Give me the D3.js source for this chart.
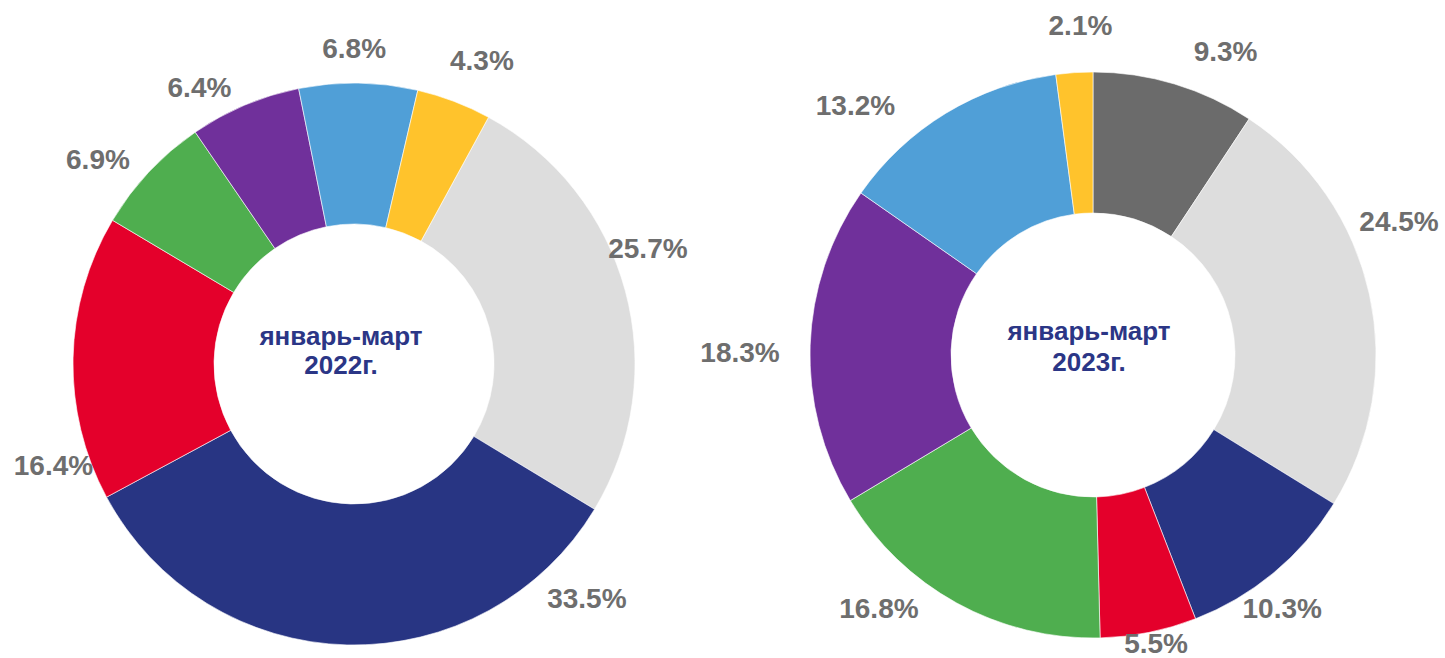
<!DOCTYPE html>
<html>
<head>
<meta charset="utf-8">
<script src="https://cdn.jsdelivr.net/npm/d3@7"></script>
<style>
  html, body { margin: 0; padding: 0; background: #ffffff; }
  svg { display: block; }
  text { font-family: "Liberation Sans", Arial, sans-serif; font-weight: bold; }
</style>
</head>
<body>
<svg id="chart" width="1445" height="658"></svg>
<script>
// ---- Data ----
const categories = ["Категория 1", "Категория 2", "Категория 3", "Категория 4",
                    "Категория 5", "Категория 6", "Категория 7", "Категория 8"];
const values2022 = [0, 25.7, 33.5, 16.4, 6.9, 6.4, 6.8, 4.3];
const values2023 = [9.3, 24.5, 10.3, 5.5, 16.8, 18.3, 13.2, 2.1];
const titles = [["январь-март", "2022г."], ["январь-март", "2023г."]];

// ---- Styles / layout ----
const colors = ["#6b6b6b", "#dddddd", "#283583", "#e4002b", "#4fae4f", "#70309b", "#509fd7", "#ffc32c"];
const labelColor = "#6e6e6e";
const titleColor = "#2b3686";

const charts = [
  { values: values2022, cx: 354, cy: 364, r: 281, r0: 140, start: 28.6,
    titleDx: -13, titleY: [345, 374],
    // per-label angular shift (deg) and radius, layout only
    shift: [0, -6.4, -46.3, -19.8, -4.5, -6.3, -0.85, 1.95],
    lr:    [0, 316, 330, 317, 328, 317, 316, 330] },
  { values: values2023, cx: 1093, cy: 355, r: 283, r0: 142, start: 0,
    titleDx: -4, titleY: [340, 371],
    shift: [6.8, -11.2, 3.0, -1.0, 11.5, -1.5, -12.2, 1.6],
    lr:    [332, 334, 316, 295, 331, 353, 345, 330] }
];

const svg = d3.select("#chart");
const rad = d => d * Math.PI / 180;

charts.forEach((c, ci) => {
  const pie = d3.pie().sort(null).value(d => d)
    .startAngle(rad(c.start)).endAngle(rad(c.start) + 2 * Math.PI);
  const arcs = pie(c.values);
  const arc = d3.arc().innerRadius(c.r0).outerRadius(c.r);
  const g = svg.append("g").attr("transform", `translate(${c.cx},${c.cy})`);

  g.selectAll("path.slice").data(arcs).join("path")
    .attr("class", "slice")
    .attr("d", arc)
    .attr("fill", (d, i) => colors[i])
    .attr("stroke", "#ffffff")
    .attr("stroke-width", 0.6);

  g.selectAll("text.lbl").data(arcs.filter(d => d.data > 0)).join("text")
    .attr("class", "lbl")
    .attr("x", d => {
      const a = (d.startAngle + d.endAngle) / 2 + rad(c.shift[d.index]);
      return Math.sin(a) * c.lr[d.index];
    })
    .attr("y", d => {
      const a = (d.startAngle + d.endAngle) / 2 + rad(c.shift[d.index]);
      return -Math.cos(a) * c.lr[d.index];
    })
    .attr("dy", "0.36em")
    .attr("text-anchor", "middle")
    .attr("fill", labelColor)
    .attr("font-size", 28)
    .text(d => d3.format(".1f")(d.data) + "%");

  const t = svg.append("text")
    .attr("text-anchor", "middle")
    .attr("fill", titleColor)
    .attr("font-size", 26);
  titles[ci].forEach((line, li) => {
    t.append("tspan").attr("x", c.cx + c.titleDx).attr("y", c.titleY[li]).text(line);
  });
});
</script>
</body>
</html>
